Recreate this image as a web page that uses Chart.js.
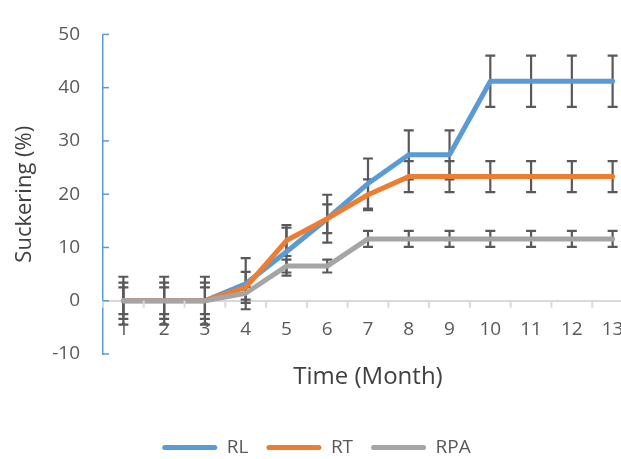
<!DOCTYPE html>
<html>
<head>
<meta charset="utf-8">
<script src="https://cdn.jsdelivr.net/npm/chart.js@4.4.0/dist/chart.umd.min.js"></script>
<style>
  html, body { margin: 0; padding: 0; background: #fff; overflow: hidden; }
  #wrap { width: 640px; height: 459px; position: relative; }
</style>
</head>
<body>
<div id="wrap"><canvas id="chart"></canvas></div>
<script>
// mois
const months = ['1', '2', '3', '4', '5', '6', '7', '8', '9', '10', '11', '12', '13'];

// valeurs moyennes (%)
const rl  = [0, 0, 0, 3.2, 9.2, 15.4, 22.0, 27.4, 27.4, 41.2, 41.2, 41.2, 41.2];
const rt  = [0, 0, 0, 2.5, 11.3, 15.4, 19.9, 23.3, 23.3, 23.3, 23.3, 23.3, 23.3];
const rpa = [0, 0, 0, 1.4, 6.5, 6.5, 11.6, 11.6, 11.6, 11.6, 11.6, 11.6, 11.6];

// barres d'erreur (+/-)
const rlErr  = [4.5, 4.5, 4.5, 4.8, 4.5, 4.5, 4.7, 4.6, 4.6, 4.8, 4.8, 4.8, 4.8];
const rtErr  = [3.4, 3.4, 3.4, 2.9, 2.9, 2.7, 2.9, 2.9, 2.9, 2.9, 2.9, 2.9, 2.9];
const rpaErr = [2.5, 2.5, 2.5, 1.2, 1.2, 1.2, 1.5, 1.5, 1.5, 1.5, 1.5, 1.5, 1.5];

const yTicks = { min: -10, max: 50, step: 10 };

const FONT = '"Open Sans", "Noto Sans", sans-serif';

// barres d'erreur dessinées sous les lignes
const errorBars = {
    id: 'errorBars',
    beforeDatasetsDraw(chart) {
        const ctx = chart.ctx;
        const x = chart.scales.x, y = chart.scales.y;
        ctx.save();
        ctx.strokeStyle = '#595959';
        ctx.lineWidth = 2.2;
        chart.data.datasets.forEach(ds => {
            ds.data.forEach((v, i) => {
                const e = ds.errors[i];
                const px = x.getPixelForValue(i);
                const top = y.getPixelForValue(v + e);
                const bot = y.getPixelForValue(v - e);
                ctx.beginPath();
                ctx.moveTo(px, top); ctx.lineTo(px, bot);
                ctx.moveTo(px - 5, top); ctx.lineTo(px + 5, top);
                ctx.moveTo(px - 5, bot); ctx.lineTo(px + 5, bot);
                ctx.stroke();
            });
        });
        ctx.restore();
    }
};

// petites graduations façon Excel
const axisMarks = {
    id: 'axisMarks',
    afterDraw(chart) {
        const ctx = chart.ctx;
        const x = chart.scales.x, y = chart.scales.y;
        const area = chart.chartArea;
        ctx.save();
        // graduations de l'axe X sous la ligne zéro
        const y0 = y.getPixelForValue(0);
        ctx.strokeStyle = '#d9d9d9';
        ctx.lineWidth = 2;
        for (let i = 0; i <= months.length; i++) {
            const px = x.getPixelForValue(i - 0.5);
            ctx.beginPath();
            ctx.moveTo(px, y0); ctx.lineTo(px, y0 + 7);
            ctx.stroke();
        }
        // graduations de l'axe Y vers l'intérieur
        ctx.strokeStyle = '#5B9BD5';
        ctx.lineWidth = 1.5;
        y.ticks.forEach(t => {
            const py = y.getPixelForValue(t.value);
            ctx.beginPath();
            ctx.moveTo(area.left, py); ctx.lineTo(area.left + 6, py);
            ctx.stroke();
        });
        ctx.restore();
    }
};

function series(label, data, errors, color, order) {
    return {
        label: label,
        data: data,
        errors: errors,
        borderColor: color,
        backgroundColor: color,
        borderWidth: 5,
        borderCapStyle: 'round',
        borderJoinStyle: 'round',
        pointRadius: 0,
        tension: 0,
        order: order
    };
}

new Chart(document.getElementById('chart'), {
    type: 'line',
    data: {
        labels: months,
        datasets: [
            series('RL', rl, rlErr, '#5B9BD5', 3),
            series('RT', rt, rtErr, '#ED7D31', 2),
            series('RPA', rpa, rpaErr, '#A5A5A5', 1)
        ]
    },
    options: {
        responsive: true,
        maintainAspectRatio: false,
        animation: false,
        layout: { padding: { top: 18, right: 7, left: 0, bottom: 0 } },
        scales: {
            x: {
                offset: true,
                grid: { display: false },
                border: { display: false },
                ticks: {
                    mirror: true,
                    padding: 13,
                    maxRotation: 0,
                    autoSkip: false,
                    color: '#595959',
                    font: { family: FONT, size: 19 }
                },
                title: {
                    display: true,
                    text: 'Time (Month)',
                    color: '#404040',
                    font: { family: FONT, size: 24 },
                    padding: { top: 0, bottom: 28 }
                },
                afterFit(scale) { scale.height = 66; }
            },
            y: {
                min: yTicks.min,
                max: yTicks.max,
                ticks: {
                    stepSize: yTicks.step,
                    padding: 23,
                    color: '#595959',
                    font: { family: FONT, size: 19 }
                },
                grid: {
                    drawTicks: false,
                    color: ctx => ctx.tick && ctx.tick.value === 0 ? '#d9d9d9' : 'rgba(0,0,0,0)',
                    lineWidth: 2
                },
                border: { display: true, color: '#5B9BD5', width: 1.5 },
                title: {
                    display: true,
                    text: 'Suckering (%)',
                    color: '#404040',
                    font: { family: FONT, size: 22 },
                    padding: { top: 12, bottom: 0 }
                },
                afterFit(scale) { scale.width = 103; }
            }
        },
        plugins: {
            legend: {
                position: 'bottom',
                maxHeight: 39,
                labels: {
                    boxWidth: 55,
                    boxHeight: 5,
                    padding: 18,
                    useBorderRadius: true,
                    borderRadius: 2.5,
                    color: '#595959',
                    font: { family: FONT, size: 19 },
                    sort: (a, b) => a.datasetIndex - b.datasetIndex,
                    generateLabels(chart) {
                        return Chart.defaults.plugins.legend.labels.generateLabels(chart).map(item => {
                            item.lineWidth = 0;
                            item.fillStyle = chart.data.datasets[item.datasetIndex].borderColor;
                            return item;
                        });
                    }
                }
            },
            tooltip: { enabled: false }
        }
    },
    plugins: [errorBars, axisMarks]
});
</script>
</body>
</html>
